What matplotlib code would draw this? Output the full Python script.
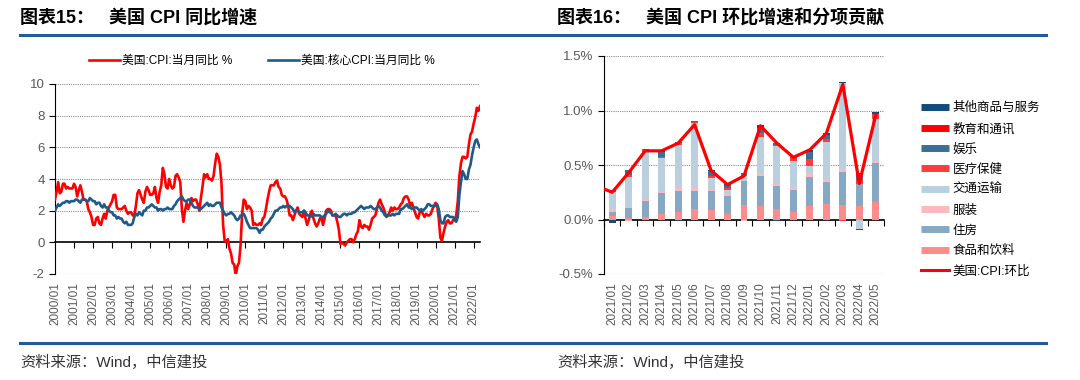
# 美国CPI同比增速（左）与环比增速和分项贡献（右）
import numpy as np
import matplotlib
matplotlib.use("Agg")
import matplotlib.pyplot as plt
from matplotlib.lines import Line2D

plt.rcParams['font.family'] = ['Liberation Sans', 'Noto Sans CJK SC', 'DejaVu Sans']
plt.rcParams['axes.unicode_minus'] = False

# ---------------- 数据：图表15 ----------------
years = [str(y) + "/01" for y in range(2000, 2023)]

cpi_yoy = [
    2.7, 3.2, 3.8, 3.1, 3.2, 3.7, 3.7, 3.4, 3.5, 3.4, 3.4, 3.4,
    3.7, 3.5, 2.9, 3.3, 3.6, 3.2, 2.7, 2.7, 2.6, 2.1, 1.9, 1.6,
    1.1, 1.1, 1.5, 1.6, 1.2, 1.1, 1.5, 1.8, 1.5, 2.0, 2.2, 2.4,
    2.6, 3.0, 3.0, 2.2, 2.1, 2.1, 2.1, 2.2, 2.3, 2.0, 1.8, 1.9,
    1.9, 1.7, 1.7, 2.3, 3.1, 3.3, 3.0, 2.7, 2.5, 3.2, 3.5, 3.3,
    3.0, 3.0, 3.1, 3.5, 2.8, 2.5, 3.2, 3.6, 4.7, 4.3, 3.5, 3.4,
    4.0, 3.6, 3.4, 3.5, 4.2, 4.3, 4.1, 3.8, 2.1, 1.3, 2.0, 2.5,
    2.1, 2.4, 2.8, 2.6, 2.7, 2.7, 2.4, 2.0, 2.8, 3.5, 4.3, 4.1,
    4.3, 4.0, 4.0, 3.9, 4.2, 5.0, 5.6, 5.4, 4.9, 3.7, 1.1, 0.1,
    0.0, 0.2, -0.4, -0.7, -1.3, -1.4, -2.1, -1.5, -1.3, -0.2, 1.8, 2.7,
    2.6, 2.1, 2.3, 2.2, 2.0, 1.1, 1.2, 1.1, 1.1, 1.2, 1.1, 1.5,
    1.6, 2.1, 2.7, 3.2, 3.6, 3.6, 3.6, 3.8, 3.9, 3.5, 3.4, 3.0,
    2.9, 2.9, 2.7, 2.3, 1.7, 1.7, 1.4, 1.7, 2.0, 2.2, 1.8, 1.7,
    1.6, 2.0, 1.5, 1.1, 1.4, 1.8, 2.0, 1.5, 1.2, 1.0, 1.2, 1.5,
    1.6, 1.1, 1.5, 2.0, 2.1, 2.1, 2.0, 1.7, 1.7, 1.7, 1.3, 0.8,
    -0.1, 0.0, -0.1, -0.2, 0.0, 0.1, 0.2, 0.2, 0.0, 0.2, 0.5, 0.7,
    1.4, 1.0, 0.9, 1.1, 1.0, 1.0, 0.8, 1.1, 1.5, 1.6, 1.7, 2.1,
    2.5, 2.7, 2.4, 2.2, 1.9, 1.6, 1.7, 1.9, 2.2, 2.0, 2.2, 2.1,
    2.1, 2.2, 2.4, 2.5, 2.8, 2.9, 2.9, 2.7, 2.3, 2.5, 2.2, 1.9,
    1.6, 1.5, 1.9, 2.0, 1.8, 1.6, 1.8, 1.7, 1.7, 1.8, 2.1, 2.3,
    2.5, 2.3, 1.5, 0.3, 0.1, 0.6, 1.0, 1.3, 1.4, 1.2, 1.2, 1.4,
    1.4, 1.7, 2.6, 4.2, 5.0, 5.4, 5.4, 5.3, 5.4, 6.2, 6.8, 7.0,
    7.5, 7.9, 8.5, 8.3, 8.6,
]

core_yoy = [
    2.0, 2.2, 2.4, 2.3, 2.4, 2.5, 2.5, 2.6, 2.6, 2.5, 2.6, 2.6,
    2.6, 2.7, 2.7, 2.6, 2.5, 2.7, 2.7, 2.7, 2.6, 2.6, 2.8, 2.7,
    2.6, 2.6, 2.4, 2.5, 2.5, 2.3, 2.2, 2.4, 2.2, 2.2, 2.0, 1.9,
    1.9, 1.7, 1.7, 1.5, 1.6, 1.5, 1.5, 1.3, 1.2, 1.3, 1.1, 1.1,
    1.1, 1.2, 1.6, 1.8, 1.7, 1.9, 1.8, 1.7, 2.0, 2.0, 2.2, 2.2,
    2.3, 2.4, 2.3, 2.2, 2.2, 2.0, 2.1, 2.1, 2.0, 2.1, 2.1, 2.2,
    2.1, 2.1, 2.1, 2.3, 2.4, 2.6, 2.7, 2.8, 2.9, 2.7, 2.6, 2.6,
    2.7, 2.7, 2.5, 2.3, 2.2, 2.2, 2.2, 2.1, 2.1, 2.2, 2.3, 2.4,
    2.5, 2.3, 2.4, 2.3, 2.3, 2.4, 2.5, 2.5, 2.5, 2.2, 2.0, 1.8,
    1.7, 1.8, 1.8, 1.9, 1.8, 1.7, 1.5, 1.4, 1.5, 1.7, 1.7, 1.8,
    1.6, 1.3, 1.1, 0.9, 0.9, 0.9, 0.9, 0.9, 0.8, 0.6, 0.8, 0.8,
    1.0, 1.1, 1.2, 1.3, 1.5, 1.6, 1.8, 2.0, 2.0, 2.1, 2.2, 2.2,
    2.3, 2.2, 2.3, 2.3, 2.3, 2.2, 2.1, 1.9, 2.0, 2.0, 1.9, 1.9,
    1.9, 2.0, 1.9, 1.7, 1.7, 1.6, 1.7, 1.8, 1.7, 1.7, 1.7, 1.7,
    1.6, 1.6, 1.7, 1.8, 2.0, 1.9, 1.9, 1.7, 1.7, 1.8, 1.7, 1.6,
    1.6, 1.7, 1.8, 1.8, 1.7, 1.8, 1.8, 1.8, 1.9, 1.9, 2.0, 2.1,
    2.2, 2.3, 2.2, 2.1, 2.2, 2.2, 2.2, 2.3, 2.2, 2.1, 2.1, 2.2,
    2.3, 2.2, 2.0, 1.9, 1.7, 1.7, 1.7, 1.7, 1.7, 1.8, 1.7, 1.8,
    1.8, 1.8, 2.1, 2.1, 2.2, 2.3, 2.4, 2.2, 2.2, 2.1, 2.2, 2.2,
    2.2, 2.1, 2.0, 2.1, 2.0, 2.1, 2.2, 2.4, 2.4, 2.3, 2.3, 2.3,
    2.3, 2.4, 2.1, 1.4, 1.2, 1.2, 1.6, 1.7, 1.7, 1.6, 1.6, 1.6,
    1.4, 1.3, 1.6, 3.0, 3.8, 4.5, 4.3, 4.0, 4.0, 4.6, 4.9, 5.5,
    6.0, 6.4, 6.5, 6.2, 6.0,
]

# ---------------- 数据：图表16 ----------------
months = ["2021/01", "2021/02", "2021/03", "2021/04", "2021/05", "2021/06",
          "2021/07", "2021/08", "2021/09", "2021/10", "2021/11", "2021/12",
          "2022/01", "2022/02", "2022/03", "2022/04", "2022/05"]

# 各分项贡献（%），自下而上堆叠
food      = [0.035, 0.01, 0.02, 0.05, 0.07, 0.10, 0.09, 0.055, 0.13, 0.12, 0.10, 0.065, 0.12, 0.145, 0.13, 0.12, 0.165]
housing   = [0.03, 0.10, 0.15, 0.19, 0.19, 0.165, 0.175, 0.16, 0.225, 0.28, 0.205, 0.21, 0.27, 0.20, 0.31, 0.21, 0.35]
apparel   = [0.035, -0.01, 0.01, 0.01, 0.03, 0.02, 0.01, 0.02, -0.01, 0.015, 0.025, 0.02, 0.025, 0.02, 0.02, 0.0, 0.02]
transport = [0.15, 0.28, 0.44, 0.31, 0.39, 0.60, 0.11, 0.035, 0.04, 0.345, 0.34, 0.245, 0.08, 0.35, 0.79, -0.09, 0.39]
medical   = [0.0, 0.02, 0.015, 0.01, 0.02, 0.01, 0.015, 0.015, 0.01, 0.03, 0.01, 0.02, 0.06, 0.025, -0.01, 0.03, 0.04]
recreation = [0.02, 0.04, 0.015, 0.05, 0.01, 0.005, 0.045, 0.03, 0.02, 0.045, 0.02, 0.02, 0.06, 0.035, 0.0, 0.05, 0.0]
education = [0.0, 0.0, 0.0, 0.0, 0.0, 0.0, 0.0, 0.0, 0.0, 0.0, 0.0, 0.0, 0.0, 0.0, 0.0, -0.01, 0.0]
other     = [-0.03, 0.0, 0.0, 0.015, -0.01, 0.005, 0.01, 0.01, 0.0, 0.03, -0.01, 0.0, 0.02, 0.02, 0.015, 0.02, 0.02]

# 美国CPI环比（首个值为2020/12，被坐标轴截去）
cpi_mom_prev = 0.31
cpi_mom = [0.25, 0.43, 0.63, 0.63, 0.70, 0.87, 0.45, 0.32, 0.40, 0.86, 0.70, 0.57,
           0.64, 0.79, 1.24, 0.33, 0.96]

parts = [
    ("食品和饮料", food, "#FF8C8C"),
    ("住房", housing, "#86A8C2"),
    ("服装", apparel, "#FFB8BE"),
    ("交通运输", transport, "#BBD0DF"),
    ("医疗保健", medical, "#FF3B3B"),
    ("娱乐", recreation, "#3A6F98"),
    ("教育和通讯", education, "#FF0000"),
    ("其他商品与服务", other, "#114C7C"),
]

W, H = 1080, 380
fig = plt.figure(figsize=(W / 100, H / 100), dpi=100)

grid_kw = dict(color="#8C8C8C", lw=0.8, ls=(0, (1, 1)))
tick_color = "#595959"

# ================= 图表15 =================
ax1 = fig.add_axes([55 / W, 1 - 274 / H, 425 / W, 190 / H])
x1 = np.arange(len(cpi_yoy))
l1, = ax1.plot(x1, cpi_yoy, color="#FF0000", lw=1.9, label="美国:CPI:当月同比 %", zorder=3)
l2, = ax1.plot(x1, core_yoy, color="#1F5B8A", lw=1.9, label="美国:核心CPI:当月同比 %", zorder=3)
ax1.set_xlim(0, 268)
ax1.set_ylim(-2, 10)
ax1.set_yticks(range(-2, 11, 2))
for v in [-2, 2, 4, 6, 8, 10]:
    ax1.axhline(v, zorder=0, **grid_kw)
for s in ["top", "right", "bottom"]:
    ax1.spines[s].set_visible(False)
ax1.spines["left"].set_color("black")
ax1.tick_params(axis="y", colors=tick_color, labelsize=9.5, length=4, direction="out")
ax1.tick_params(axis="y", color="black")
ax1.set_xticks(np.arange(0, len(cpi_yoy), 12))
ax1.set_xticklabels(years, rotation=90)
ax1.tick_params(axis="x", length=0, labelsize=8.5, colors=tick_color, pad=6)
# 零轴
sec = ax1.secondary_xaxis(2 / 12)
sec.set_xticks(np.arange(12, len(cpi_yoy), 12))
sec.set_xticklabels([])
sec.tick_params(axis="x", length=4, direction="out", color="black")
sec.spines["bottom"].set_color("black")
sec.spines["bottom"].set_linewidth(1.2)

fig.legend(handles=[l1, l2], loc="center", bbox_to_anchor=(262 / W, 1 - 61 / H),
           ncol=2, frameon=False, fontsize=8.5, handlelength=2.6, columnspacing=3.0,
           handletextpad=0.2)

# ================= 图表16 =================
ax2 = fig.add_axes([604 / W, 1 - 274 / H, 280 / W, 218 / H])
x2 = np.arange(len(months))
pos_base = np.zeros(len(months))
neg_base = np.zeros(len(months))
handles = []
for name, vals, color in parts:
    vals = np.array(vals)
    base = np.where(vals >= 0, pos_base, neg_base)
    ax2.bar(x2, vals, 0.42, bottom=base, color=color, zorder=2)
    pos_base = pos_base + np.clip(vals, 0, None)
    neg_base = neg_base + np.clip(vals, None, 0)
    handles.append(Line2D([], [], color=color, lw=5, solid_capstyle="butt", label=name))

ax2.plot(np.r_[-1, x2], np.r_[cpi_mom_prev, cpi_mom], color="#FF0000", lw=2.3, zorder=4)
ax2.set_xlim(-0.5, len(months) - 0.5)
ax2.set_ylim(-0.5, 1.5)
ax2.set_yticks([-0.5, 0.0, 0.5, 1.0, 1.5])
ax2.set_yticklabels(["-0.5%", "0.0%", "0.5%", "1.0%", "1.5%"])
for v in [-0.5, 0.5, 1.0, 1.5]:
    ax2.axhline(v, zorder=0, **grid_kw)
for s in ["top", "right", "bottom"]:
    ax2.spines[s].set_visible(False)
ax2.tick_params(axis="y", colors=tick_color, labelsize=9.5, length=4, direction="out")
ax2.tick_params(axis="y", color="black")
ax2.set_xticks(x2)
ax2.set_xticklabels(months, rotation=90)
ax2.tick_params(axis="x", length=0, labelsize=8.5, colors=tick_color, pad=6)
sec2 = ax2.secondary_xaxis(0.5 / 2)
sec2.set_xticks(np.arange(-0.5, len(months) + 0.5, 1))
sec2.set_xticklabels([])
sec2.tick_params(axis="x", length=4, direction="out", color="black")
sec2.spines["bottom"].set_color("black")
sec2.spines["bottom"].set_linewidth(1.2)

leg_handles = handles[::-1] + [Line2D([], [], color="#FF0000", lw=2.2, label="美国:CPI:环比")]
fig.legend(handles=leg_handles, loc="upper left", bbox_to_anchor=(910 / W, 1 - 91 / H),
           frameon=False, fontsize=9, handlelength=2.2, handletextpad=0.3,
           labelspacing=0.66)

# ================= 标题、分隔线与来源 =================
title_kw = dict(fontsize=13, fontweight="bold", va="center", color="black")
fig.text(20 / W, 1 - 18 / H, "图表15：   美国 CPI 同比增速", **title_kw)
fig.text(557 / W, 1 - 18 / H, "图表16：   美国 CPI 环比增速和分项贡献", **title_kw)
for yy in [35, 343]:
    fig.add_artist(Line2D([20 / W, 1046 / W], [1 - yy / H, 1 - yy / H],
                          color="#1F5C99", lw=2.2))
fig.text(20 / W, 1 - 362 / H, "资料来源：Wind，中信建投", fontsize=11, va="center", color="#333333")
fig.text(557 / W, 1 - 362 / H, "资料来源：Wind，中信建投", fontsize=11, va="center", color="#333333")

fig.savefig("out.png", dpi=100)
